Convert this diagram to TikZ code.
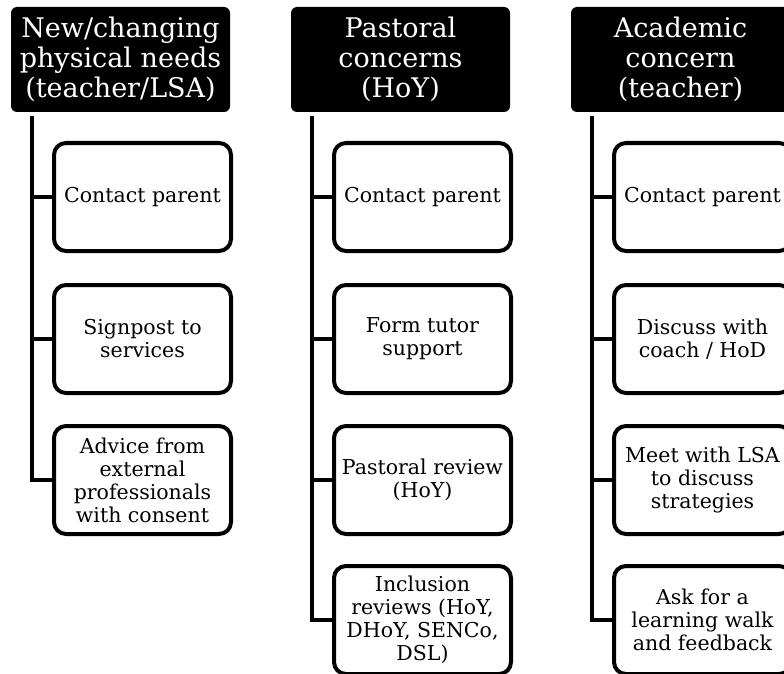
\documentclass[tikz,border=0pt]{standalone}
\usepackage{fontspec}
\setmainfont{DejaVu Serif}
\usetikzlibrary{calc}

\tikzset{
  head/.style={fill=black, text=white, rounded corners=6pt, inner sep=0pt,
    minimum width=219pt, minimum height=105pt, align=center,
    font=\fontsize{27}{30}\selectfont},
  item/.style={draw, line width=4pt, rounded corners=12pt, inner sep=2pt,
    minimum width=177pt, minimum height=108pt, align=center,
    font=\fontsize{20.5}{23}\selectfont},
  trunk/.style={line width=4pt}
}

\begin{document}
\begin{tikzpicture}[x=1pt,y=-1pt]
        \useasboundingbox (0,0) rectangle (784,674);
        % headers
        \node[head] (h1) at (120.5,59.5) {New/changing\\physical needs\\(teacher/LSA)};
        \node[head] (h2) at (400.5,59.5) {Pastoral\\concerns\\(HoY)};
        \node[head] (h3) at (680.5,59.5) {Academic\\concern\\(teacher)};
        % first column
        \node[item] (a1) at (142.5,197) {Contact parent};
        \node[item] (a2) at (142.5,339) {Signpost to\\services};
        \node[item] (a3) at (142.5,480) {Advice from\\external\\professionals\\with consent};
        % second column
        \node[item] (b1) at (422.5,197) {Contact parent};
        \node[item] (b2) at (422.5,339) {Form tutor\\support};
        \node[item] (b3) at (422.5,480) {Pastoral review\\(HoY)};
        \node[item] (b4) at (422.5,620) {Inclusion\\reviews (HoY,\\DHoY, SENCo,\\DSL)};
        % third column
        \node[item] (c1) at (702.5,197) {Contact parent};
        \node[item] (c2) at (702.5,339) {Discuss with\\coach / HoD};
        \node[item] (c3) at (702.5,480) {Meet with LSA\\to discuss\\strategies};
        \node[item] (c4) at (702.5,620) {Ask for a\\learning walk\\and feedback};
        % trunks
        \foreach \h/\t in {h1/t1,h2/t2,h3/t3}
          \coordinate (\t) at ($(\h.south west)+(21,4)$);
        \foreach \b in {a1,a2,a3}
          \draw[trunk] (t1) |- (\b.west);
        \foreach \b in {b1,b2,b3,b4}
          \draw[trunk] (t2) |- (\b.west);
        \foreach \b in {c1,c2,c3,c4}
          \draw[trunk] (t3) |- (\b.west);
      \end{tikzpicture}
\end{document}
